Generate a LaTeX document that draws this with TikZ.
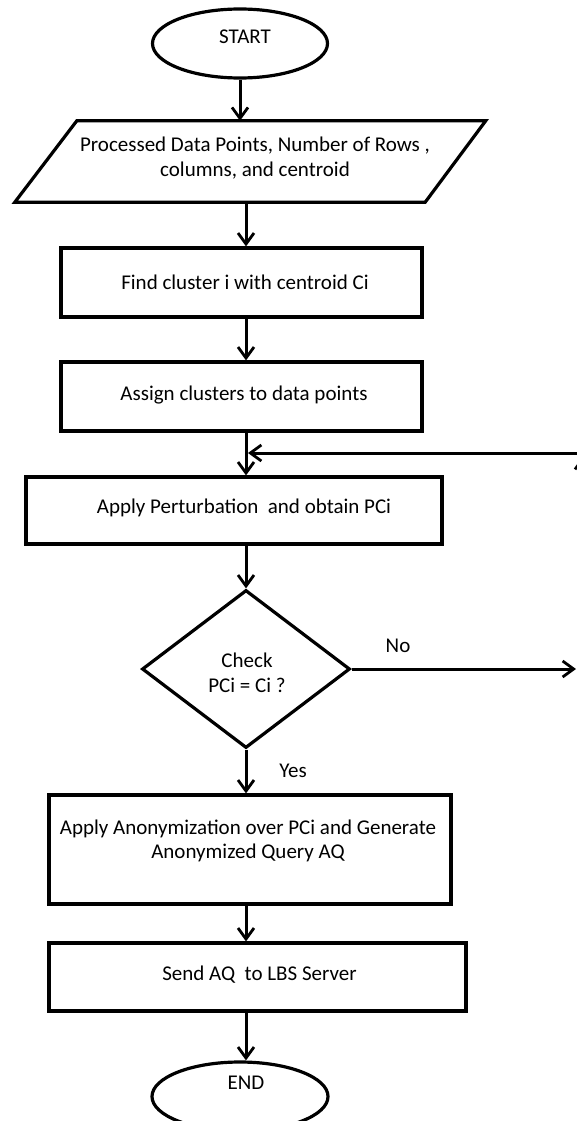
\documentclass[tikz,border=0pt]{standalone}
\usepackage{fontspec}
\setmainfont{Carlito}
\usetikzlibrary{shapes.geometric,arrows.meta,calc}
\begin{document}
\begin{tikzpicture}[x=1pt,y=-1pt,
  every node/.style={font=\fontsize{21}{24.5}\selectfont},
  shape base/.style={draw=black, line width=3.2pt, inner sep=0pt, fill=white},
  procbox/.style={shape base, rectangle},
  termbox/.style={shape base, ellipse, minimum width=175pt, minimum height=69pt},
  iobox/.style={rectangle, inner sep=0pt, minimum width=410pt, minimum height=81pt},
  ioline/.style={draw=black, line width=3.2pt, line join=miter},
  decbox/.style={shape base, diamond, minimum width=208pt, minimum height=158pt, aspect=1.316},
  txt/.style={align=center, inner sep=0pt},
  conn/.style={line width=3pt, -{Straight Barb[length=11pt,width=16pt,line width=2.8pt]}},
  lbltxt/.style={inner sep=0pt}
]
\useasboundingbox (0,0) rectangle (577,1121);
\clip (0,0) rectangle (577,1121);
\fill[white] (0,0) rectangle (577,1121);

\coordinate (spine) at (246,0);

\node[termbox, label={[txt,xshift=5pt,yshift=6.5pt]center:START}] (start) at (240,43.5) {};
\node[iobox] (para) at (250.5,161.5) {};
\draw[ioline] ($(para.south west)+(-30.5,0)$) -- ($(para.south east)+(-30.5,0)$)
   -- ($(para.north east)+(30,0)$) -- ($(para.north west)+(31.5,0)$) -- cycle;
\node[txt, xshift=4.5pt, yshift=3.5pt] (paratext) at (para.center) {Processed Data Points, Number of Rows ,\\columns, and centroid};
\node[procbox, minimum width=361pt, minimum height=69pt, label={[txt,xshift=3.5pt,yshift=0.5pt]center:Find cluster i with centroid Ci}] (find) at (241.5,282.5) {};
\node[procbox, minimum width=361pt, minimum height=69pt, label={[txt,xshift=2.5pt,yshift=1.5pt]center:Assign clusters to data points}] (assign) at (241.5,396.5) {};
\node[procbox, minimum width=416pt, minimum height=67pt, label={[txt,xshift=10pt,yshift=2.5pt]center:Apply Perturbation\ \ and obtain PCi}] (pert) at (234,510.5) {};
\node[decbox, label={[txt,xshift=1pt,yshift=-4pt]center:{Check\\PCi = Ci ?}}] (dec) at (246,669) {};
\node[procbox, minimum width=402pt, minimum height=109pt, label={[txt,xshift=-2pt,yshift=8.5pt]center:{Apply Anonymization over PCi and Generate\\Anonymized Query AQ}}] (anon) at (250,849.5) {};
\node[procbox, minimum width=417pt, minimum height=68pt, label={[txt,xshift=2pt,yshift=2pt]center:Send AQ\ \ to LBS Server}] (send) at (257.5,977) {};
\node[termbox, minimum width=176pt, label={[txt,xshift=6pt,yshift=13.5pt]center:END}] (finish) at (240,1096.5) {};

\node[lbltxt] (nolbl) at (398,646) {No};
\node[lbltxt] (yeslbl) at (293,771) {Yes};

\coordinate (noend) at (576,669);
\coordinate (rbot) at (583,671);
\coordinate (rtop) at (583,456);
\coordinate (loopstart) at (600,453);
\coordinate (loopin) at (248,453);

\draw[conn] (start.south) -- (start.south |- para.north);
\draw[conn] (para.south -| spine) -- (find.north -| spine);
\draw[conn] (find.south -| spine) -- (assign.north -| spine);
\draw[conn] (assign.south -| spine) -- (pert.north -| spine);
\draw[conn] (pert.south -| spine) -- (dec.north);
\draw[conn] (dec.south) -- (anon.north -| spine);
\draw[conn] (anon.south -| spine) -- (send.north -| spine);
\draw[conn] (send.south -| spine) -- (finish.north -| spine);

\draw[conn] (dec.east) -- (noend);
\draw[conn] (rbot) -- (rtop);
\draw[conn] (loopstart) -- (loopin);
\end{tikzpicture}
\end{document}
